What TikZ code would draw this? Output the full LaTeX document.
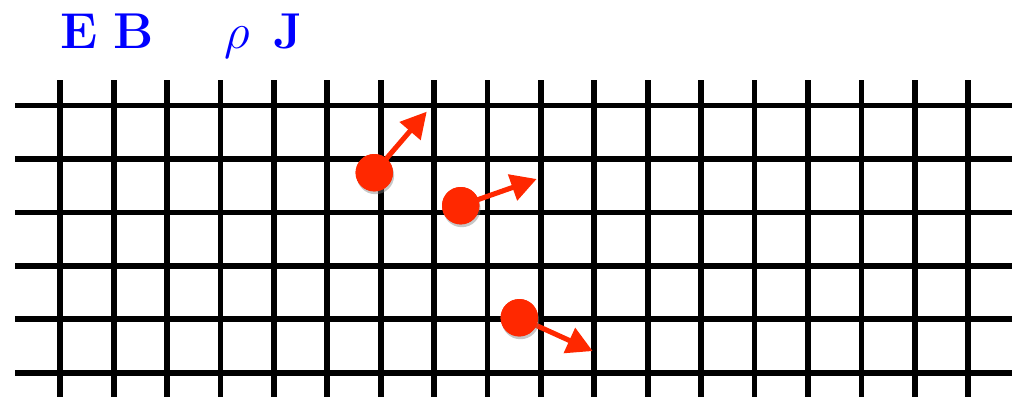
\documentclass[tikz,border=0pt]{standalone}
\usepackage{amsmath}
\usepackage{amssymb}
\usepackage{xcolor}
\usepackage{tikz}
\usetikzlibrary{arrows.meta, shadows}
\definecolor{particlered}{RGB}{255, 40, 0}
\definecolor{fieldblue}{RGB}{0, 0, 255}

\begin{document}
\begin{tikzpicture}[x=1cm, y=1cm,
  gridline/.style={black, line width=3pt},
  particle/.style={circle, fill=particlered, minimum size=0.7cm, inner sep=0pt,
    drop shadow={opacity=0.25, shadow xshift=0.6pt, shadow yshift=-1.5pt}},
  velocity/.style={particlered, line width=2.7pt, -{Triangle[length=0.48cm, width=0.5cm]}},
  fieldlabel/.style={anchor=base west, inner sep=0pt, text=fieldblue, font=\Huge, scale=1.08, transform shape}]
\useasboundingbox (-1.129,-0.455) rectangle (17.822,6.979);
% mesh
\foreach \i in {0,...,17}
  \draw[gridline] (\i,-0.455) -- (\i,5.49);
\foreach \j in {0,...,5}
  \draw[gridline] (-0.848,\j) -- (17.822,\j);
% quantities on the mesh
\node[fieldlabel] (fields) at (0.0,6.075) {$\mathbf{E}\ \mathbf{B}$};
\node[fieldlabel] (sources) at (3.06,6.075) {$\rho\ \,\mathbf{J}$};
% particles
\node[particle] (p1) at (5.880,3.745) {};
\node[particle] (p2) at (7.498,3.127) {};
\node[particle] (p3) at (8.596,1.029) {};
\coordinate (v1) at (6.862,4.888);
\coordinate (v2) at (8.921,3.627);
\coordinate (v3) at (9.970,0.405);
\draw[velocity] (p1.center) -- (v1);
\draw[velocity] (p2.center) -- (v2);
\draw[velocity] (p3.center) -- (v3);
\node[particle] at (p1) {};
\node[particle] at (p2) {};
\node[particle] at (p3) {};
\end{tikzpicture}
\end{document}
